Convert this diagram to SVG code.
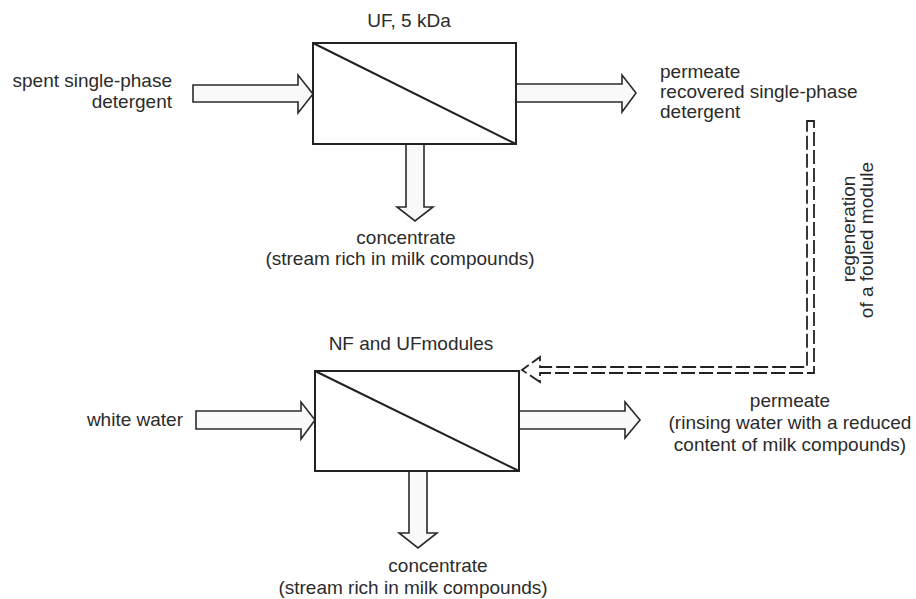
<svg xmlns="http://www.w3.org/2000/svg" width="916" height="599" viewBox="0 0 916 599">
<style>
text{font-family:"Liberation Sans",Arial,sans-serif;font-size:19px;fill:#2b2b2b}
.box{fill:#fff;stroke:#222;stroke-width:2}
.diag{stroke:#222;stroke-width:2}
.arr{fill:#f9f9f9;stroke:#2a2a2a;stroke-width:1.6;stroke-linejoin:miter}
.dash{fill:#fff;stroke:#222;stroke-width:1.8;stroke-dasharray:14 4}
</style>
<rect width="916" height="599" fill="#fff"/>
<g id="connectors">
<path class="arr" d="M193,85 H298 V75 L313,94 L298,113 V102 H193 Z"/>
<path class="arr" d="M516,84 H622 V75 L636,93 L622,112 V102 H516 Z"/>
<path class="arr" d="M406,144 V207 H397 L415,221 L433,207 H424 V144 Z"/>
<path class="arr" d="M196,411 H301 V402 L315,420 L301,439 V429 H196 Z"/>
<path class="arr" d="M519,411 H625 V402 L640,420 L625,438 V429 H519 Z"/>
<path class="arr" d="M409,471 V533 H399 L418,548 L437,533 H427 V471 Z"/>
<path class="dash" d="M807,121 H814 V373 H540 V382 L522,370 L540,357 V367 H807 Z"/>
</g>
<g id="uf-module">
<rect class="box" x="313" y="43" width="203" height="101"/>
<line class="diag" x1="313" y1="43" x2="516" y2="144"/>
<text x="409" y="27" text-anchor="middle">UF, 5 kDa</text>
</g>
<g id="nf-uf-modules">
<rect class="box" x="315" y="371" width="204" height="100"/>
<line class="diag" x1="315" y1="371" x2="519" y2="471"/>
<text x="411" y="350" text-anchor="middle">NF and UFmodules</text>
</g>
<g id="spent-detergent">
<text x="172" y="87" text-anchor="end">spent single-phase</text>
<text x="172" y="108" text-anchor="end">detergent</text>
</g>
<g id="permeate-top">
<text x="660" y="78">permeate</text>
<text x="660" y="98">recovered single-phase</text>
<text x="660" y="118">detergent</text>
</g>
<g id="concentrate-top">
<text x="406" y="244" text-anchor="middle">concentrate</text>
<text x="400" y="265" text-anchor="middle">(stream rich in milk compounds)</text>
</g>
<g id="regeneration">
<text transform="translate(855,229) rotate(-90)" text-anchor="middle">regeneration</text>
<text transform="translate(873,240) rotate(-90)" text-anchor="middle">of a fouled module</text>
</g>
<g id="white-water">
<text x="183" y="426" text-anchor="end">white water</text>
</g>
<g id="permeate-bottom">
<text x="790" y="407" text-anchor="middle">permeate</text>
<text x="790" y="429" text-anchor="middle">(rinsing water with a reduced</text>
<text x="790" y="451" text-anchor="middle">content of milk compounds)</text>
</g>
<g id="concentrate-bottom">
<text x="438" y="572" text-anchor="middle">concentrate</text>
<text x="413" y="594" text-anchor="middle">(stream rich in milk compounds)</text>
</g>
</svg>
